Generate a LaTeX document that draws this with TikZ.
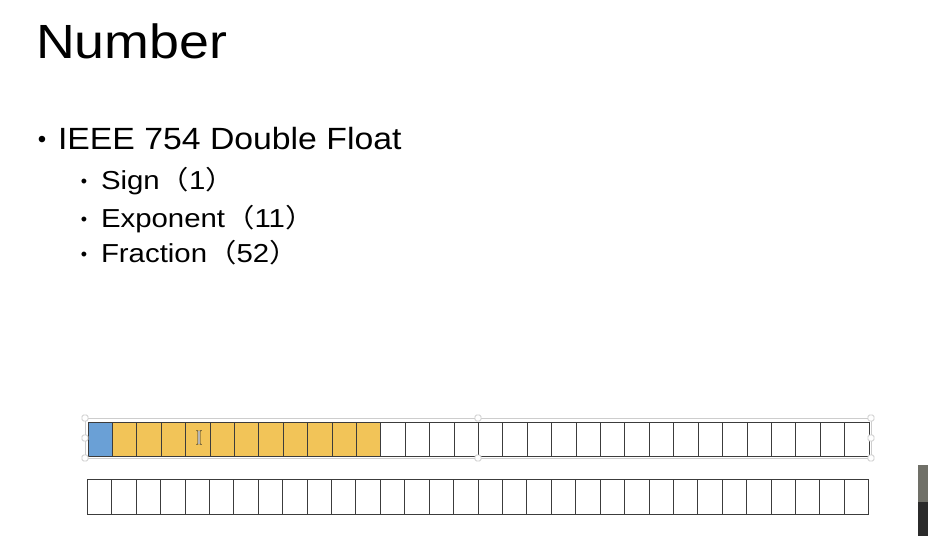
\documentclass[tikz,border=0pt]{standalone}
\usepackage{fontspec}
\setmainfont{Liberation Sans}
\newfontfamily\cjk{Noto Sans CJK SC}
\definecolor{signblue}{RGB}{106,160,214}
\definecolor{expyellow}{RGB}{242,196,88}
\definecolor{cellline}{RGB}{60,60,60}
\definecolor{selgray}{RGB}{205,205,205}
\definecolor{darkgray1}{RGB}{112,112,104}
\definecolor{darkgray2}{RGB}{43,43,43}
\tikzset{
  bitcell/.style={draw=cellline, line width=0.9pt, minimum width=24.41pt, minimum height=34pt, inner sep=0pt, outer sep=0pt, anchor=west},
  handle/.style={draw=selgray, fill=white, rounded corners=1.5pt, minimum size=6pt, inner sep=0pt, line width=0.8pt},
  txt/.style={anchor=base west, inner sep=0pt, outer sep=0pt},
  bul/.style={anchor=center, inner sep=0pt}
}
\begin{document}
\begin{tikzpicture}[x=1pt,y=-1pt]
\useasboundingbox[fill=white] (0,0) rectangle (928,536);
% title
\node[txt, xscale=1.12] (title) at (36,58) {\fontsize{48}{58}\selectfont Number};
% bullets
\node[bul] (b0) at (42,142) {\fontsize{24}{26}\selectfont •};
\node[txt, xscale=1.10] (ieee) at (58,149.5) {\fontsize{30.7}{36}\selectfont IEEE 754 Double Float};
\node[bul] (b1) at (84,183) {\fontsize{18}{20}\selectfont •};
\node[txt, xscale=1.13] (sign) at (101,189.5) {\fontsize{26}{30}\selectfont Sign{\cjk （}1{\cjk ）}};
\node[bul] (b2) at (84,221) {\fontsize{18}{20}\selectfont •};
\node[txt, xscale=1.13] (expo) at (101,227.5) {\fontsize{26}{30}\selectfont Exponent{\cjk （}11{\cjk ）}};
\node[bul] (b3) at (84,256) {\fontsize{18}{20}\selectfont •};
\node[txt, xscale=1.13] (frac) at (101,262.5) {\fontsize{26}{30}\selectfont Fraction{\cjk （}52{\cjk ）}};
% selection frame
\draw[selgray, line width=0.8pt] (85,418) rectangle (871,458);
% top row
\foreach \i in {0,...,31}{
  \pgfmathsetmacro{\xx}{88+24.406*\i}
  \ifnum\i=0
    \node[bitcell, fill=signblue] (t\i) at (\xx,439) {};
  \else\ifnum\i<12
    \node[bitcell, fill=expyellow] (t\i) at (\xx,439) {};
  \else
    \node[bitcell, fill=white] (t\i) at (\xx,439) {};
  \fi\fi
}
% bottom row
\foreach \i in {0,...,31}{
  \pgfmathsetmacro{\xx}{87.3+24.42*\i}
  \node[bitcell, minimum height=35pt, fill=white] (r\i) at (\xx,497) {};
}
% selection handles
\foreach \p/\n in {{85,418}/h1,{478,418}/h2,{871,418}/h3,{85,438}/h4,{871,438}/h5,{85,458}/h6,{478,458}/h7,{871,458}/h8}{
  \node[handle] (\n) at (\p) {};
}
% text cursor
\draw[white, line width=2.2pt] (199,431) -- (199,444);
\draw[darkgray2, line width=0.7pt] (196.5,430.5) -- (198,431) -- (198,444) -- (196.5,444.5);
\draw[darkgray2, line width=0.7pt] (201.5,430.5) -- (200,431) -- (200,444) -- (201.5,444.5);
% dark element at right edge
\fill[darkgray1] (918,465) rectangle (928,502);
\fill[darkgray2] (918,502) rectangle (928,536);
\end{tikzpicture}
\end{document}
